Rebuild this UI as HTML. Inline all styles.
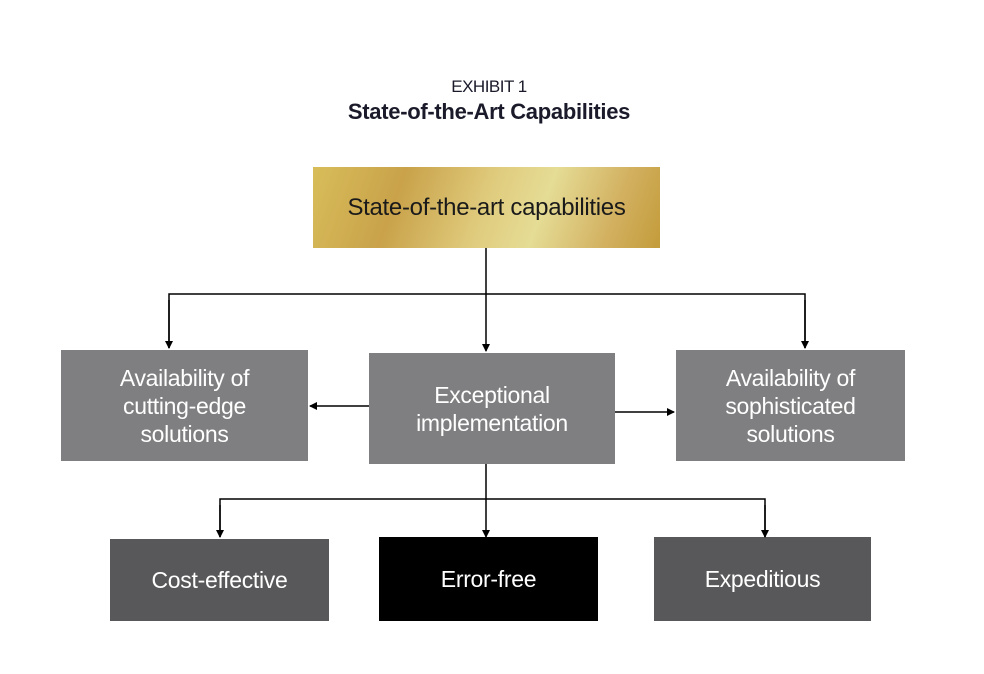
<!DOCTYPE html>
<html><head><style>
body{margin:0;width:984px;height:674px;background:#fff;position:relative;font-family:"Liberation Sans",sans-serif;overflow:hidden}
.b{position:absolute;display:flex;align-items:center;justify-content:center;text-align:center;color:#fff;font-size:23px;line-height:28px;letter-spacing:-0.3px}
.t{position:absolute;width:984px;left:-3px;text-align:center;color:#1a1a2a}
</style></head><body>
<div class="t" style="top:77px;font-size:17px;letter-spacing:-0.5px">EXHIBIT 1</div>
<div class="t" style="top:99px;font-size:22px;font-weight:bold;letter-spacing:-0.3px">State-of-the-Art Capabilities</div>
<div class="b" style="left:313px;top:167px;width:347px;height:81px;background:linear-gradient(110deg,#d8bd5a 0%,#c9a24a 25%,#e0cc7e 50%,#e5dc95 65%,#d2b060 85%,#c39c3a 100%);color:#1a1a1a;font-size:24px">State-of-the-art capabilities</div>
<div class="b" style="left:61px;top:350px;width:247px;height:111px;background:#7f7f81">Availability of<br>cutting-edge<br>solutions</div>
<div class="b" style="left:369px;top:353px;width:246px;height:111px;background:#7f7f81">Exceptional<br>implementation</div>
<div class="b" style="left:676px;top:350px;width:229px;height:111px;background:#7f7f81">Availability of<br>sophisticated<br>solutions</div>
<div class="b" style="left:110px;top:539px;width:219px;height:82px;background:#58585a">Cost-effective</div>
<div class="b" style="left:379px;top:537px;width:219px;height:84px;background:#000">Error-free</div>
<div class="b" style="left:654px;top:537px;width:217px;height:84px;background:#58585a">Expeditious</div>
<svg width="984" height="674" style="position:absolute;left:0;top:0" fill="none" stroke="#000" stroke-width="1.5">
<defs><marker id="a" markerWidth="8" markerHeight="8" refX="7" refY="4" orient="auto" markerUnits="userSpaceOnUse"><path d="M0,0L8,4L0,8z" fill="#000" stroke="none"/></marker></defs>
<path d="M486,248V351" marker-end="url(#a)"/>
<path d="M169,348V294H805V348" />
<path d="M169,300V348" marker-end="url(#a)"/>
<path d="M805,300V348" marker-end="url(#a)"/>
<path d="M369,406H310" marker-end="url(#a)"/>
<path d="M615,412H674" marker-end="url(#a)"/>
<path d="M486,464V537" marker-end="url(#a)"/>
<path d="M220,537V499H765V537"/>
<path d="M220,505V537" marker-end="url(#a)"/>
<path d="M765,505V537" marker-end="url(#a)"/>
</svg>
</body></html>
